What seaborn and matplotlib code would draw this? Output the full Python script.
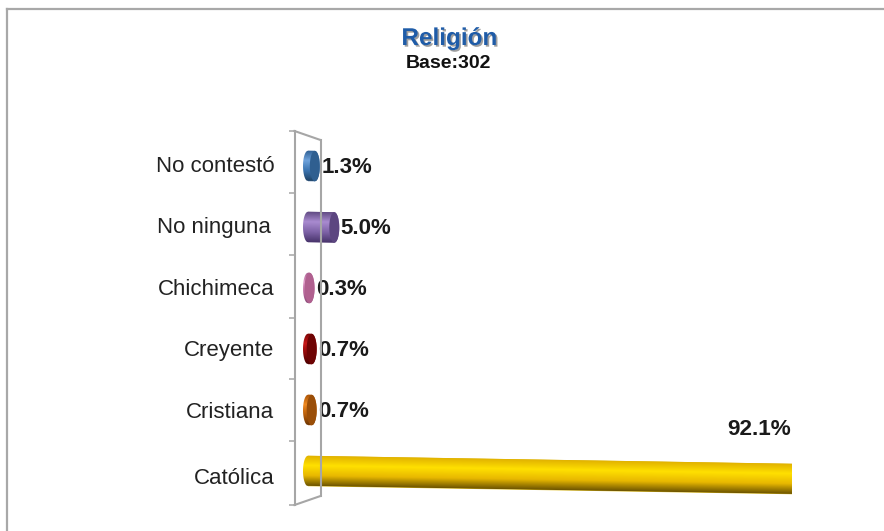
import numpy as np
import pandas as pd
import seaborn as sns
import matplotlib
matplotlib.use("Agg")
import matplotlib.pyplot as plt
from matplotlib.colors import LinearSegmentedColormap
from matplotlib.lines import Line2D
from matplotlib.patches import PathPatch
from matplotlib.path import Path
from matplotlib.transforms import Affine2D, ScaledTranslation
import matplotlib.patheffects as pe

categories = ["No contestó", "No ninguna ", "Chichimeca", "Creyente", "Cristiana", "Católica"]
values = [1.3, 5.0, 0.3, 0.7, 0.7, 92.1]
labels = ["1.3%", "5.0%", "0.3%", "0.7%", "0.7%", "92.1%"]
base_colors = ["#4F81BD", "#8064A2", "#C0699F", "#A80F0F", "#D9690E", "#FFD200"]
shades = [
    ["#2E5F93", "#6FA3DC", "#3B74B0", "#1F4468"],
    ["#5E4880", "#A98BD0", "#7D62A6", "#47336A"],
    ["#A85E90", "#E3A0CC", "#BB6C9F", "#8A4A78"],
    ["#7A0505", "#C81818", "#8C0808", "#4A0000"],
    ["#A85206", "#F08A20", "#B85E0A", "#6E3602"],
    ["#E0B000", "#FFE000", "#E8B800", "#6E5500"],
]
cap_colors = ["#2F5F90", "#5C4680", "#B0608F", "#6E0303", "#9A4E08", None]

W, H = 884, 531
plt.rcParams["font.family"] = ["Liberation Sans", "DejaVu Sans"]
fig = plt.figure(figsize=(W / 100, H / 100), dpi=100, facecolor="white")

def fx(p): return p / W
def fy(p): return 1 - p / H

PX_LEFT, PX_ZERO, PX_RIGHT = 294.5, 308.0, 792.0
PX_TOP, PX_BOTTOM = 131.0, 505.0
PX_FIRST, PX_STEP = 166.0, 61.0
ax = fig.add_axes([fx(PX_LEFT), fy(PX_BOTTOM), (PX_RIGHT - PX_LEFT) / W, (PX_BOTTOM - PX_TOP) / H])
df = pd.DataFrame({"categoria": categories, "valor": values})
sns.barplot(data=df, y="categoria", x="valor", hue="categoria", palette=base_colors,
            order=categories, hue_order=categories, width=0.5, dodge=False, legend=False, ax=ax)

vmax = max(values)
unit = (PX_RIGHT - PX_ZERO) / vmax
xlim = (-(PX_ZERO - PX_LEFT) / unit, vmax)
ylim = ((PX_BOTTOM - PX_FIRST) / PX_STEP, (PX_TOP - PX_FIRST) / PX_STEP)
ax.set_xlim(*xlim)
ax.set_ylim(*ylim)
ax.set_xlabel(""); ax.set_ylabel(""); ax.set_xticks([])
ax.patch.set_alpha(0)
for s in ["top", "right", "bottom"]:
    ax.spines[s].set_visible(False)
ax.spines["left"].set_color("#A6A6A6"); ax.spines["left"].set_linewidth(1.5)
ax.tick_params(axis="y", which="major", length=0, pad=14.5, labelsize=16, labelcolor="#222222")
boundaries = [(p - PX_FIRST) / PX_STEP for p in (131, 193, 255, 318, 379, 441, 505)]
ax.set_yticks(boundaries, minor=True)
ax.tick_params(axis="y", which="minor", length=4.5, width=1.1, color="#A6A6A6")
for lab, dx, dy in zip(ax.get_yticklabels(), [0, 3, 0, 0, 0, 0], [-2, -2, -1, -1, 0, 5]):
    lab.set_transform(lab.get_transform() + ScaledTranslation(dx / 100, -dy / 100, fig.dpi_scale_trans))

# Perspective: the bar drifts downward with its length.
slope = (8.0 / PX_STEP) / vmax
skew = Affine2D.from_values(1, slope, 0, 1, 0, 0) + ax.transData
cap_w = 5.0 / unit

def arc(cx, cy, rx, ry, start, stop, n=40):
    t = np.linspace(start, stop, n)
    return np.column_stack([cx + rx * np.cos(t), cy + ry * np.sin(t)])

for bar, shade, cap in zip(ax.patches, shades, cap_colors):
    bx, by, bw, bh = bar.get_x(), bar.get_y(), bar.get_width(), bar.get_height()
    cy = by + bh / 2
    left = arc(bx, cy, cap_w, bh / 2, np.pi / 2, 3 * np.pi / 2)
    if cap is None:
        right = np.array([[bw, by], [bw, by + bh]])
    else:
        right = arc(bw, cy, cap_w, bh / 2, -np.pi / 2, np.pi / 2)
    outline = Path(np.vstack([left, right, left[:1]]))
    clip = PathPatch(outline, transform=skew, facecolor="none", edgecolor="none")
    ax.add_patch(clip)
    bar.set_transform(skew)
    cmap = LinearSegmentedColormap.from_list("c", shade)
    grad = np.linspace(0, 1, 64)[:, None]
    im = ax.imshow(grad, cmap=cmap, origin="lower", aspect="auto", interpolation="bilinear",
                   extent=(bx - cap_w, bw + cap_w, by, by + bh), zorder=3)
    im.set_transform(skew)
    im.set_clip_path(clip)
    if cap is not None:
        e = arc(bw, cy, cap_w, bh / 2, 0, 2 * np.pi, 60)
        ax.add_patch(PathPatch(Path(e), transform=skew, facecolor=cap, edgecolor="none", zorder=4))

ax.set_aspect("auto")
ax.set_xlim(*xlim)
ax.set_ylim(*ylim)

for i, (v, lab) in enumerate(zip(values, labels)):
    if v == vmax:
        ax.annotate(lab, (v, i), xytext=(-1, 41), textcoords="offset pixels", ha="right", va="center",
                    fontsize=16.2, fontweight="bold", color="#1A1A1A", zorder=6, annotation_clip=False)
    else:
        ax.annotate(lab, (v, i), xytext=(6.5, -1.5), textcoords="offset pixels", ha="left", va="center",
                    fontsize=16, fontweight="bold", color="#1A1A1A", zorder=6, annotation_clip=False)

# Wall of the 3-D axis and chart frame
wall = [((294.5, 131), (320.5, 140)), ((320.5, 140), (320.5, 496)), ((320.5, 496), (294.5, 505))]
for (a, b) in wall:
    fig.add_artist(Line2D([fx(a[0]), fx(b[0])], [fy(a[1]), fy(b[1])], color="#A6A6A6", lw=1.5, zorder=1))
frame = [((6.5, 531), (6.5, 9)), ((6.5, 9), (884, 9))]
for (a, b) in frame:
    fig.add_artist(Line2D([fx(a[0]), fx(b[0])], [fy(a[1]), fy(b[1])], color="#A8A8A8", lw=1.6))

fig.text(fx(449.5), fy(38.5), "Religión", ha="center", va="center", fontsize=17.5, fontweight="bold", color="#1F5CA8",
         path_effects=[pe.withSimplePatchShadow(offset=(1.2, -1.2), shadow_rgbFace="#777777", alpha=0.7)])
fig.text(fx(448), fy(63), "Base:302", ha="center", va="center", fontsize=14, fontweight="bold", color="#111111")

fig.savefig("out.png", dpi=100)
